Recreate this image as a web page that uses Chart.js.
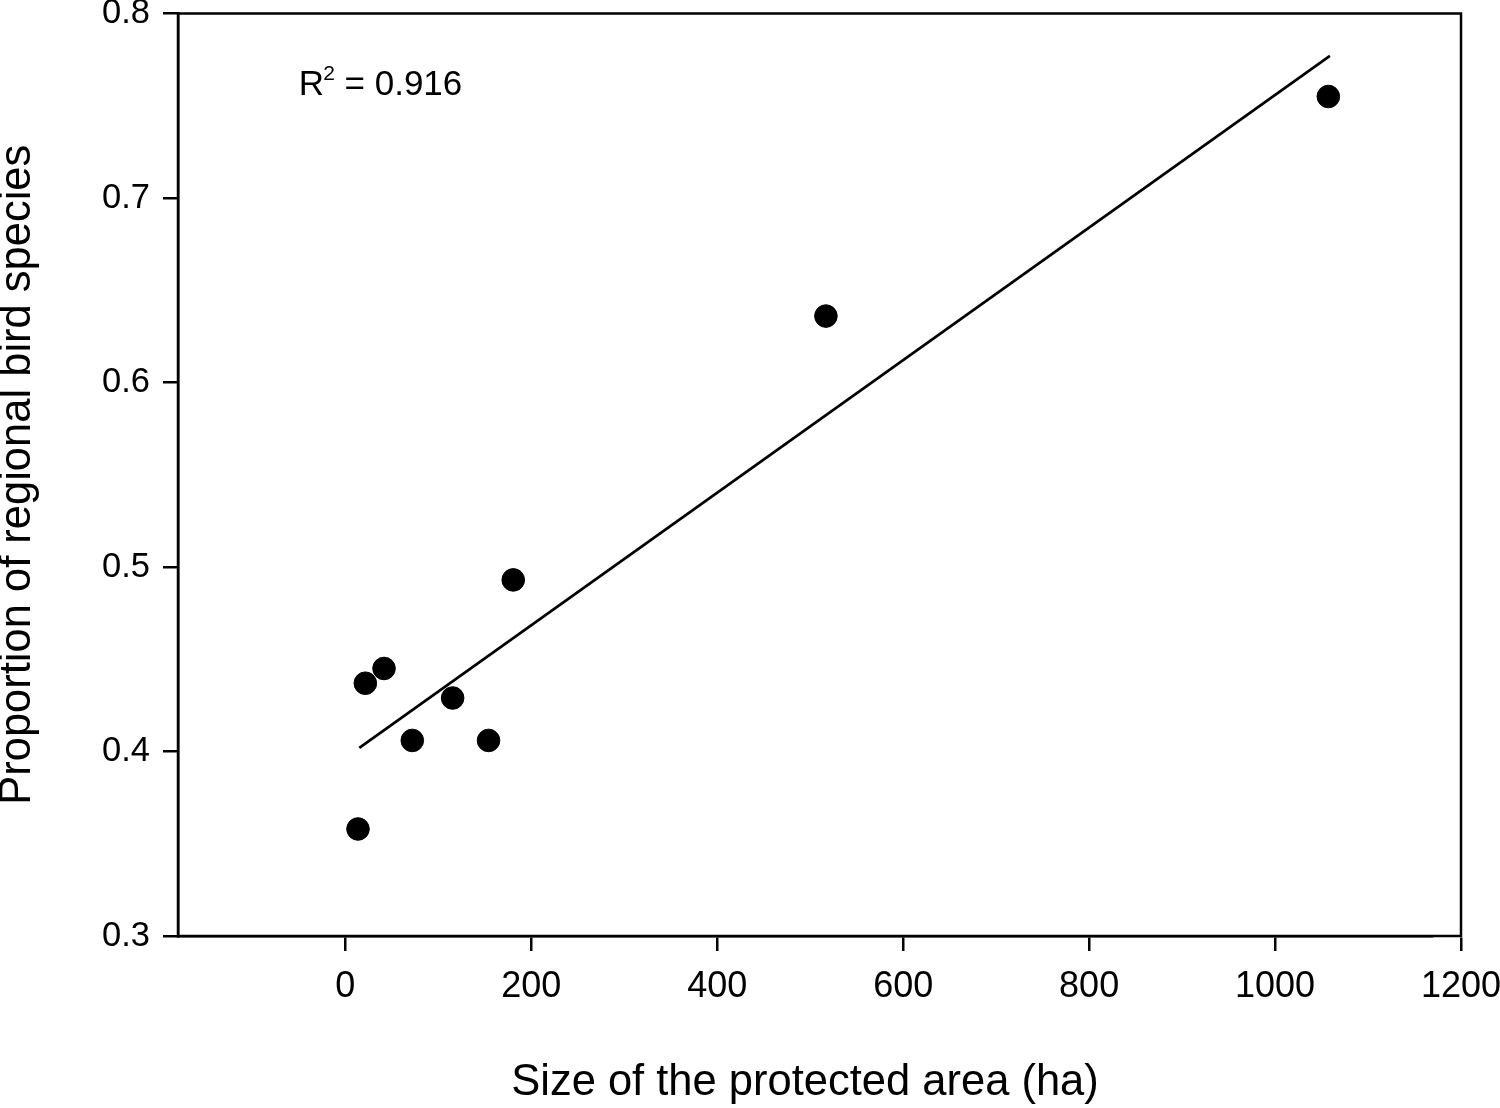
<!DOCTYPE html>
<html>
<head>
<meta charset="utf-8">
<script src="https://cdn.jsdelivr.net/npm/chart.js@4"></script>
<style>
  html, body { margin: 0; padding: 0; background: #fff; }
  #wrap { width: 1500px; height: 1108px; position: relative; }
</style>
</head>
<body>
<div id="wrap"><canvas id="c"></canvas></div>
<script>
// Data
const areaHa = [13.6, 21.5, 41.6, 72, 115.4, 154, 180.6, 516.9, 1057.3];
const birdProportion = [0.358, 0.437, 0.445, 0.406, 0.429, 0.406, 0.493, 0.636, 0.755];
const fitX = [15, 1059];
const fitY = [0.402, 0.777];
const xTicks = [0, 200, 400, 600, 800, 1000, 1200];
const yTicks = [0.3, 0.4, 0.5, 0.6, 0.7, 0.8];
const r2Label = { prefix: 'R', sup: '2', rest: ' = 0.916', x: -50, y: 0.756 };

const FONT = "'Liberation Sans', Arial, sans-serif";

// The reference centres the x-axis title slightly left of the plot centre
const titleShiftPlugin = {
  id: 'titleShift',
  beforeDraw(chart) {
    const s = chart.scales.x;
    s._origRight = s.right;
    s.right = s.right - 29;
  },
  afterDraw(chart) {
    const s = chart.scales.x;
    if (s._origRight !== undefined) { s.right = s._origRight; }
  }
};

const framePlugin = {
  id: 'frame',
  afterDraw(chart) {
    const { ctx, chartArea: a, scales } = chart;
    ctx.save();
    ctx.strokeStyle = '#000';
    ctx.lineWidth = 2.5;
    ctx.strokeRect(a.left, a.top, a.right - a.left, a.bottom - a.top);
    // R^2 annotation
    const px = scales.x.getPixelForValue(r2Label.x);
    const py = scales.y.getPixelForValue(r2Label.y);
    ctx.fillStyle = '#000';
    ctx.textBaseline = 'alphabetic';
    ctx.textAlign = 'left';
    ctx.font = '35px ' + FONT;
    ctx.fillText(r2Label.prefix, px, py);
    const w = ctx.measureText(r2Label.prefix).width;
    ctx.font = '21px ' + FONT;
    ctx.fillText(r2Label.sup, px + w - 1, py - 15);
    const w2 = ctx.measureText(r2Label.sup).width;
    ctx.font = '35px ' + FONT;
    ctx.fillText(r2Label.rest, px + w - 1 + w2, py);
    ctx.restore();
  }
};

const pts = areaHa.map((x, i) => ({ x, y: birdProportion[i] }));
const fit = fitX.map((x, i) => ({ x, y: fitY[i] }));

new Chart(document.getElementById('c'), {
  type: 'scatter',
  data: {
    datasets: [
      {
        type: 'line',
        data: fit,
        borderColor: '#000',
        borderWidth: 2.7,
        pointRadius: 0,
        fill: false,
        tension: 0,
        order: 2
      },
      {
        data: pts,
        backgroundColor: '#000',
        borderColor: '#000',
        pointRadius: 11.3,
        pointHoverRadius: 11.3,
        order: 1
      }
    ]
  },
  options: {
    responsive: true,
    maintainAspectRatio: false,
    animation: false,
    devicePixelRatio: 1,
    layout: { padding: { top: 13.5, right: 39, left: 0, bottom: 0 } },
    plugins: { legend: { display: false }, tooltip: { enabled: false } },
    scales: {
      x: {
        type: 'linear',
        min: -180,
        max: 1200,
        afterBuildTicks(s) { s.ticks = xTicks.map(v => ({ value: v })); },
        afterFit(s) { s.height = 172; s.paddingLeft = 0; s.paddingRight = 0; },
        border: { display: true, color: '#000', width: 2.5 },
        grid: { display: true, drawOnChartArea: false, drawTicks: true, tickLength: 15, color: '#000', lineWidth: 2.5 },
        ticks: {
          color: '#000',
          font: { family: FONT, size: 36, lineHeight: 1.2 },
          padding: 14,
          maxRotation: 0,
          autoSkip: false,
          callback: v => String(v)
        },
        title: {
          display: true,
          text: 'Size of the protected area (ha)',
          color: '#000',
          font: { family: FONT, size: 43.5, lineHeight: 1.15 },
          padding: 0
        }
      },
      y: {
        type: 'linear',
        min: 0.3,
        max: 0.8,
        afterBuildTicks(s) { s.ticks = yTicks.map(v => ({ value: v })); },
        afterFit(s) { s.width = 178; s.paddingTop = 0; s.paddingBottom = 0; },
        border: { display: true, color: '#000', width: 2.5 },
        grid: { display: true, drawOnChartArea: false, drawTicks: true, tickLength: 15, color: '#000', lineWidth: 2.5 },
        ticks: {
          color: '#000',
          font: { family: FONT, size: 34.5, lineHeight: 0.7 },
          padding: 13,
          autoSkip: false,
          callback: v => Number(v).toFixed(1)
        },
        title: {
          display: true,
          text: 'Proportion of regional bird species',
          color: '#000',
          font: { family: FONT, size: 43.5, lineHeight: 0.83 },
          padding: 0
        }
      }
    }
  },
  plugins: [titleShiftPlugin, framePlugin]
});
</script>
</body>
</html>
